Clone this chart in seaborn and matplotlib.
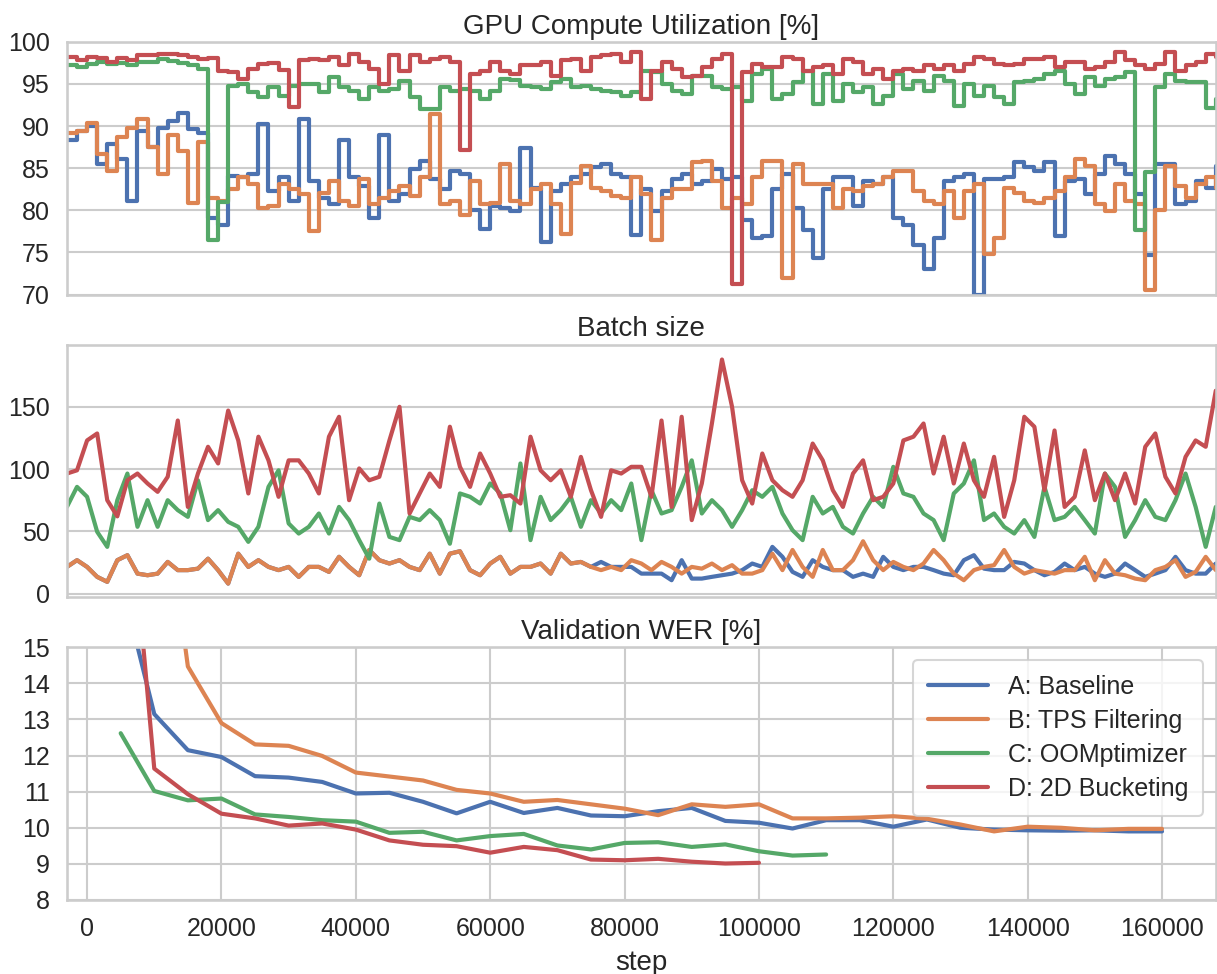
import numpy as np
import pandas as pd
import matplotlib.pyplot as plt
import seaborn as sns

# --------------------------
# Data
# --------------------------
runs = ["A: Baseline", "B: TPS Filtering", "C: OOMptimizer", "D: 2D Bucketing"]

# GPU / batch-size traces are logged every 1500 steps
trace_steps = np.arange(-3000, 168001, 1500)

gpu_a = [88.3, 89.4, 90, 85.5, 87.9, 86.1, 81.1, 89.4, 87.5, 89.8, 90.6, 91.6, 89.6, 89.2, 79.1, 78.3,
         84.1, 83.9, 84.3, 90.2, 82.3, 83.9, 81.1, 90.8, 83.5, 81.5, 80.7, 88.3, 83.9, 82.9, 79.1, 89,
         81.1, 81.9, 84.9, 85.9, 83.7, 82.5, 84.7,
         84.3, 80, 77.8, 80.5, 80.3, 79.9, 87.4, 82.7, 76.2, 82.3, 83.1, 83.9, 84.3, 85.1, 85.5, 84.3,
         83.9, 77.1, 82.5, 79.9, 82.3, 83.7, 84.3, 83.1, 83.5, 84.9, 83.7, 83.9, 78.9, 76.7, 76.9, 82.5,
         84.3, 80.3, 77.7, 74.4, 82.5, 83.9,
         83.9, 80.5, 83.5, 83.1, 83.9, 79.1, 78.3, 75.9, 73, 76.7, 83.5, 83.9, 84.3, 70, 83.7, 83.7,
         83.9, 85.7, 85.1, 84.7, 85.7, 77, 83.5, 83.7, 81.9, 84.3, 86.5, 85.5, 84.3, 81.9, 74.7, 85.5,
         85.5, 80.7, 81.1, 83.5, 82.7, 85.3]
gpu_b = [89.2, 89.4, 90.4, 86.7, 84.7, 88.7, 89.8, 90.8, 87.5, 84.3, 89, 87.1, 80.9, 88.1, 81.5, 81.1,
         82.5, 83.9, 83.1, 80.3, 80.5, 83.1, 82.5, 81.9, 77.5, 82.1, 83.5, 81.1, 80.5, 83.7, 80.7, 81.5,
         82.3, 82.9, 81.7, 84, 91.4, 80.7, 81.1,
         79.5, 83.5, 80.7, 80.9, 85.5, 81.1, 80.7, 82.5, 83.1, 80.7, 77.2, 83.3, 85.3, 82.7, 82.3, 81.7,
         81.5, 83.9, 81.9, 76.5, 81.5, 82.5, 82.5, 85.7, 85.9, 83.5, 80.3, 81.5, 80.7, 83.9, 85.9, 85.9,
         72, 85.5, 83.1, 83.1, 83.1, 80.3,
         82.5, 82.3, 82.9, 83.1, 83.9, 84.7, 84.7, 82.3, 81.1, 80.7, 82.3, 79.1, 82.3, 83.1, 74.8, 76.7,
         82.7, 82.1, 81.1, 80.9, 81.5, 82.3, 83.9, 86.1, 85.3, 80.7, 79.9, 83.1, 81.1, 80.7, 70.6, 80,
         85.3, 82.9, 81.5, 83.1, 83.9, 82.7]
gpu_c = [97.2, 97, 97.4, 97.6, 97.4, 97.5, 97.2, 97.6, 97.6, 98, 97.7, 97.5, 97.2, 96.8, 76.5, 81,
         94.8, 95, 94, 93.4, 94.6, 93.6, 94.8, 95, 95, 94, 95.8, 94.6, 94.2, 93.2, 94.6, 94.2,
         94.4, 95.4, 93.4, 92, np.nan, 94.7, 94.2,
         94.4, 94.2, 93.2, 94.2, 95.6, 95.5, 94.8, 94.6, 94.4, 95.2, 95.6, 94.6, 94.8, 94.4, 94.2, 94,
         93.6, 94, 96.6, 96.4, 95, 94.2, 93.8, 96, 96, 94.6, 94.4, 94.6, 93, 96.2, 96.8, 93.2,
         93.8, 95.2, 96.6, 92.6, 96.2, 93,
         95, 94, 94.6, 92.6, 93.6, 96.2, 94.4, 95.4, 94.2, 96, 95.4, 92.4, 95, 93.6, 94.8, 93.4,
         92.6, 95.2, 95.4, 95.6, 96.2, 96.6, 95, 93.8, 95.8, 94.8, 95.6, 95.8, 96.4, 77.7, 84.5, 94.6,
         96.2, 95.4, 95.2, np.nan, 92.2, 93.2]
gpu_d = [98.2, 97.8, 98.2, 98.1, 97.6, 98.1, 97.8, 98.4, 98.4, 98.6, 98.6, 98.4, 98.2, 98, 98.1, 96.6,
         96.4, 95.6, 96.8, 97.4, 97.5, 96.7, 92.3, 97.8, 98, 97.8, 98.2, 97.2, 98.6, 97.6, 96.8, 95,
         98.4, 96.6, 98.4, 97.6, 98, 98.2, 97.6,
         87.2, 96.2, 96.6, 97.6, 96.6, 96.2, 97.2, 97.3, 97.6, 96, 97.9, 98, 96.6, 98.2, 98.4, 98.6,
         97.6, 98.8, 93.2, 96.6, 97.6, 96.8, 95.8, 96, 97, 98, 98.6, 71.2, 96.4, 97.4, 97, 97,
         98.2, 98, 96.6, 97, 97.2, 96.2,
         98, 97.6, 96.2, 96.8, 95.6, 96.6, 96.8, 96.6, 97.2, 96.8, 97.2, 96.6, 97.4, 98.2, 98, 97.4,
         97.2, 97.4, 98, 98, 98.2, 97, 97.6, 97.6, 96.8, 97, 97.6, 98.8, 97.8, 97.2, 96.8, 97.4,
         98.8, 96.6, 97.2, 97.6, 98.6, 98.2]

bs_a = [21.4, 26.8, 21.4, 13.4, 9.4, 26.8, 30.8, 16, 14.7, 16, 25.4, 18.8, 18.8, 20, 28, 18.8,
        8, 32, 21.4, 26.8, 21.4, 18.8, 21.4, 13.4, 21.4, 21.4, 17.4, 29.5, 21.4, 14.7, 35, 26.8,
        24.1, 26.8, 21.4, 18.8, 32, 16, 32,
        34, 18.8, 14.7, 24.1, 29.5, 16, 21.4, 21.4, 24.1, 16, 32, 24.1, 25.4, 21.4, 25.4, 21.4,
        21.4, 21.4, 16, 16, 16, 10.7, 26.8, 12, 12, 13.4, 14.7, 16, 18.8, 24.1, 21.4, 37.5,
        29.5, 17.4, 13.4, 26.8, 21.4, 18.8,
        18.8, 13.4, 16, 13.4, 29.5, 21.4, 18.8, 21.4, 21.4, 18.8, 16, 14.7, 26.8, 30.8, 20, 18.8,
        18.8, 25.4, 24.1, 18.8, 14.7, 17.4, 24.1, 18.8, 21.4, 16, 13.4, 16, 24.1, 18.8, 13.4, 16,
        18.8, 29.5, 18.8, 16, 16, 24.1]
bs_b = [21.4, 26.8, 21.4, 13.4, 9.4, 26.8, 30.8, 16, 14.7, 16, 25.4, 18.8, 18.8, 20, 28, 18.8,
        8, 32, 21.4, 26.8, 21.4, 18.8, 21.4, 13.4, 21.4, 21.4, 17.4, 29.5, 21.4, 14.7, 35, 26.8,
        24.1, 26.8, 21.4, 18.8, 32, 16, 32,
        34, 18.8, 14.7, 24.1, 29.5, 16, 21.4, 21.4, 24.1, 16, 32, 24.1, 25.4, 21.4, 18.8, 21.4,
        18.8, 26.8, 24.1, 18.8, 25.4, 21.4, 16, 21.4, 20, 24.1, 18.8, 22.8, 16, 16, 18.8, 32,
        18.8, 35, 21.4, 13.4, 35, 18.8,
        18.8, 26.8, 42, 26.8, 18.8, 25.4, 21.4, 18.8, 24.1, 35, 26.8, 16, 10.7, 18.8, 21.4, 22.8,
        35, 21.4, 16, 18.8, 17.4, 16, 18.8, 18.8, 29.5, 10.7, 26.8, 16, 14.7, 12, 10.7, 18.8,
        21.4, 26.8, 13.4, 17.4, 29.5, 18.8]
bs_c = [69.6, 85.7, 77.7, 49.6, 37.5, 75, 96.4, 53.6, 75, 53.6, 75, 67, 61.6, 91, 59, 67,
        57.6, 53.6, 41.5, 53.6, 85.7, 99, 56.3, 48.2, 53.6, 64.3, 48.2, 69.6, 59, 42.9, 28, 72.3,
        45.5, 42.9, 61.6, 59, 67, 59, 40,
        80.4, 77.7, 72.3, 88.4, 80.4, 50.9, 104.5, 42.9, 77.7, 59, 67, 77.7, 53.6, 75, 64.3, 75,
        67, 88.4, 42.9, 83, 64.3, 67, 85.7, 107, 64.3, 75, 67, 53.6, 67, 83, 77.7, 85.7,
        64.3, 50.9, 42.9, 77.7, 64.3, 69.6,
        53.6, 48.2, 64.3, 77.7, 69.6, 101.8, 80.4, 77.7, 64.3, 59, 42.9, 80.4, 88.4, 107, 59, 64.3,
        53.6, 48.2, 59, 45.5, 85.7, 59, 61.6, 69.6, 59, 48.2, 96.4, 85.7, 45.5, 59, 75, 61.6,
        59, 75, 96.4, 69.6, 37.5, 69.6]
bs_d = [96.4, 99, 123, 128.6, 75, 62, 91, 96.4, 88.4, 81.7, 93.8, 139, 69.6, 96.4, 117.9, 104.5,
        147, 123, 80.4, 126, 107, 77.7, 107, 107, 96.4, 80.4, 126, 142, 75, 100.5, 91, 93.8,
        123, 150, 64.3, 80.4, 96.4, 85.7, 134,
        101.8, 85.7, 112.5, 96.4, 77.7, 79, 72.3, 126, 99, 91, 99, 77.7, 109.8, 83, 61.6, 99,
        96.4, 101.8, 101.8, 77.7, 139, 69.6, 142, 59, 88.4, 136.6, 188, 150, 91, 72.3, 112.5, 91,
        83, 77.7, 91, 120.5, 107, 83,
        69.6, 96.4, 107, 75, 77.7, 88.4, 123, 126, 136.6, 96.4, 126, 88.4, 120.5, 91, 77.7, 109.8,
        61.6, 91, 142, 134, 83, 131, 69.6, 77.7, 115, 75, 96.4, 75, 96.4, 72.3, 117.9, 128.6,
        93.8, 80.4, 109.8, 123, 117.9, 163]

# validation WER, evaluated every 5000 steps
wer_steps_a = [5000, 10000, 15000, 20000, 25000, 30000, 35000, 40000, 45000, 50000, 55000,
               60000, 65000, 70000, 75000, 80000, 85000, 90000, 95000, 100000, 105000, 110000,
               115000, 120000, 125000, 130000, 135000, 140000, 145000, 150000, 155000, 160000]
wer_a = [16.9, 13.15, 12.15, 11.96, 11.43, 11.39, 11.27, 10.95, 10.97, 10.72, 10.4, 10.72, 10.41,
         10.55, 10.34, 10.32, 10.46, 10.55, 10.19, 10.14, 9.98, 10.21, 10.21, 10.03, 10.23, 10.0,
         9.95, 9.93, 9.92, 9.93, 9.9, 9.9]
wer_b = [28, 21.4, 14.47, 12.9, 12.31, 12.27, 11.99, 11.53, 11.42, 11.31, 11.05, 10.95, 10.72,
         10.77, 10.65, 10.53, 10.35, 10.65, 10.58, 10.65, 10.26, 10.26, 10.28, 10.32, 10.25, 10.09,
         9.9, 10.03, 10.0, 9.93, 9.97, 9.97]
wer_c = [12.62, 11.02, 10.76, 10.81, 10.37, 10.3, 10.21, 10.17, 9.86, 9.89, 9.65, 9.77, 9.83,
         9.51, 9.4, 9.58, 9.6, 9.47, 9.54, 9.35, 9.23, 9.26]
wer_d = [22, 11.64, 10.93, 10.39, 10.26, 10.06, 10.12, 9.95, 9.65, 9.53, 9.49, 9.31, 9.47, 9.38,
         9.12, 9.1, 9.14, 9.06, 9.01, 9.03]

# --------------------------
# Long-form frames
# --------------------------
def long_frame(step_lists, value_lists):
    parts = []
    for run, steps, vals in zip(runs, step_lists, value_lists):
        parts.append(pd.DataFrame({"step": steps, "value": vals, "run": run}))
    return pd.concat(parts, ignore_index=True)


gpu_df = long_frame([trace_steps] * 4, [gpu_a, gpu_b, gpu_c, gpu_d])
bs_df = long_frame([trace_steps] * 4, [bs_a, bs_b, bs_c, bs_d])
wer_df = long_frame(
    [wer_steps_a, wer_steps_a, wer_steps_a[:22], wer_steps_a[:20]],
    [wer_a, wer_b, wer_c, wer_d],
)

# --------------------------
# Plot
# --------------------------
sns.set_theme(style="whitegrid", context="talk")
plt.rcParams["font.family"] = ["Liberation Sans", "DejaVu Sans"]
palette = dict(zip(runs, sns.color_palette("deep", 4)))
lw = 3.0

fig, axes = plt.subplots(3, 1, figsize=(12.17, 9.74), dpi=100, sharex=True)
fig.subplots_adjust(left=0.055, right=0.999, top=0.957, bottom=0.076, hspace=0.198)

ax = axes[0]
sns.lineplot(data=gpu_df, x="step", y="value", hue="run", palette=palette, ax=ax,
             estimator=None, sort=False, drawstyle="steps-post", linewidth=lw, legend=False)
ax.set_ylim(70, 100)
ax.set_yticks([70, 75, 80, 85, 90, 95, 100])
ax.set_title("GPU Compute Utilization [%]", fontsize=20)

ax = axes[1]
sns.lineplot(data=bs_df, x="step", y="value", hue="run", palette=palette, ax=ax,
             estimator=None, sort=False, linewidth=lw, legend=False)
ax.set_ylim(-3, 200)
ax.set_yticks([0, 50, 100, 150])
ax.set_title("Batch size", fontsize=20)

ax = axes[2]
sns.lineplot(data=wer_df, x="step", y="value", hue="run", palette=palette, ax=ax,
             estimator=None, sort=False, linewidth=lw)
ax.set_ylim(8, 15)
ax.set_yticks(range(8, 16))
ax.set_title("Validation WER [%]", fontsize=20)
ax.set_xticks(range(0, 160001, 20000))
sns.move_legend(ax, "upper right", title=None, frameon=True, fontsize=18,
                handlelength=2.4, borderpad=0.6, labelspacing=0.4)

for ax in axes:
    ax.set_ylabel("")
    ax.set_xlim(-3000, 168000)
    ax.tick_params(labelsize=18)
for ax in axes[:2]:
    ax.grid(False, axis="x")
    ax.tick_params(labelbottom=False)
axes[2].set_xlabel("step", fontsize=20, labelpad=6)

plt.savefig("out.png", dpi=100)
